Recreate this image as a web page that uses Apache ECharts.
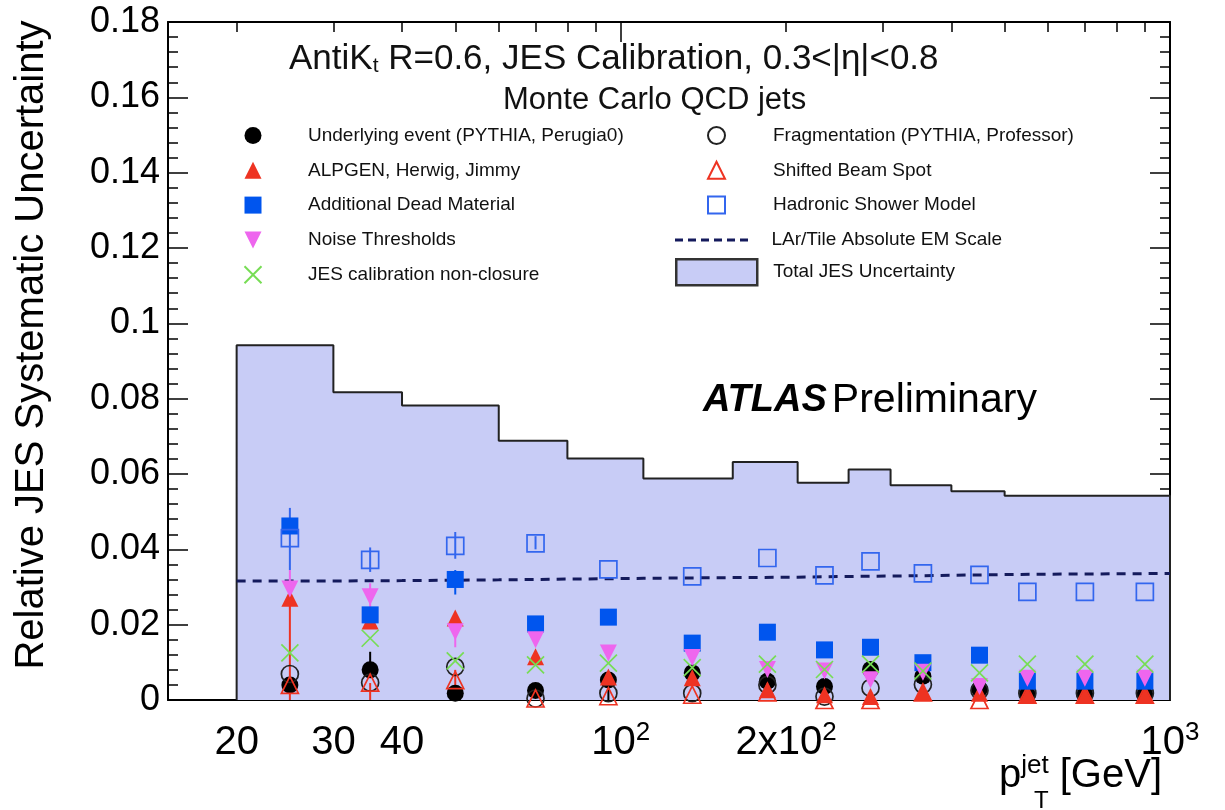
<!DOCTYPE html>
<html>
<head>
<meta charset="utf-8">
<script src="https://cdn.jsdelivr.net/npm/echarts@6/dist/echarts.min.js"></script>
<style>
html, body { margin: 0; padding: 0; background: #fff; }
#chart { width: 1225px; height: 810px; }
</style>
</head>
<body>
<div id="chart"></div>
<script>
// pT bins [GeV]
var binEdges = [20, 30, 40, 60, 80, 110, 160, 210, 260, 310, 400, 500, 600, 800, 1000];
var ptCenters = [25, 35, 50, 70, 95, 135, 185, 235, 285, 355, 450, 550, 700, 900];

var totalJES = [0.0942, 0.0817, 0.0782, 0.0688, 0.0641, 0.0588, 0.0632, 0.0577, 0.0612, 0.0570, 0.0554, 0.0542, 0.0542, 0.0542];
var larTile = [0.0316, 0.0317, 0.0319, 0.0321, 0.0323, 0.0325, 0.0326, 0.0328, 0.0329, 0.0331, 0.0333, 0.0334, 0.0335, 0.0336];

var ueData = [0.0040, 0.0080, 0.0018, 0.0025, 0.0053, 0.0072, 0.0050, 0.0036, 0.0081, 0.0063, 0.0029, 0.0014, 0.0014, 0.0014];
var fragData = [0.0069, 0.0046, 0.0088, 0.0004, 0.0018, 0.0018, 0.0040, 0.0009, 0.0032, 0.0041, 0.0025, 0.0018, 0.0018, 0.0018];
var alpgenData = [0.0270, 0.0210, 0.0218, 0.0115, 0.0061, 0.0059, 0.0027, 0.0014, 0.0009, 0.0020, 0.0018, 0.0012, 0.0012, 0.0012];
var beamData = [0.0040, 0.0046, 0.0053, 0.0004, 0.0010, 0.0014, 0.0020, 0.0000, 0.0000, 0.0020, 0.0000, 0.0014, 0.0014, 0.0014];
var deadData = [0.0462, 0.0226, 0.0320, 0.0202, 0.0220, 0.0151, 0.0180, 0.0133, 0.0140, 0.0099, 0.0119, 0.0050, 0.0050, 0.0050];
var showerData = [0.0430, 0.0372, 0.0409, 0.0416, 0.0347, 0.0328, 0.0377, 0.0331, 0.0368, 0.0336, 0.0332, 0.0287, 0.0287, 0.0287];
var noiseData = [0.0295, 0.0274, 0.0181, 0.0160, 0.0125, 0.0113, 0.0081, 0.0077, 0.0054, 0.0074, 0.0036, 0.0058, 0.0058, 0.0058];
var closureData = [0.0125, 0.0164, 0.0104, 0.0093, 0.0098, 0.0086, 0.0095, 0.0081, 0.0095, 0.0077, 0.0072, 0.0095, 0.0095, 0.0095];

// error bars: [pT, low, high]
var showerErr = [[25, 0.0345, 0.0510], [35, 0.0340, 0.0405], [50, 0.0375, 0.0446], [70, 0.0400, 0.0435]];
var deadErr = [[50, 0.0280, 0.0345]];
var noiseErr = [[25, 0.0240, 0.0345], [35, 0.0240, 0.0310], [50, 0.0140, 0.0195]];
var alpgenErr = [[25, 0.0, 0.0260], [35, 0.0, 0.0045], [50, 0.0030, 0.0080]];
var ueErr = [[35, 0.0080, 0.0128], [95, 0.0, 0.0040]];

var xLabelTicks = [20, 30, 40, 100, 200, 1000];
var xMinorTicks = [20, 30, 40, 50, 60, 70, 80, 90, 200, 300, 400, 500, 600, 700, 800, 900];
var xMajorTicks = [100, 1000];

var FONT = "'Liberation Sans', Arial, Helvetica, sans-serif";
var TRI_UP = "path://M5,0L10,10L0,10Z";
var TRI_DOWN = "path://M0,0L10,0L5,10Z";
var CROSS = "path://M0,0L10,10M10,0L0,10";
var DASHES = "path://M0,0h8v3h-8zM13,0h8v3h-8zM26,0h8v3h-8zM39,0h8v3h-8zM52,0h8v3h-8zM65,0h8v3h-8z";

function points(vals) {
  return ptCenters.map(function (x, i) { return [x, vals[i]]; });
}

// histogram outline from bin edges
function steps(vals, closed) {
  var out = [];
  if (closed) out.push([binEdges[0], 0]);
  for (var i = 0; i < vals.length; i++) {
    out.push([binEdges[i], vals[i]]);
    out.push([binEdges[i + 1], vals[i]]);
  }
  if (closed) out.push([binEdges[binEdges.length - 1], 0]);
  return out;
}

function errBars(name, data, color) {
  return {
    type: "custom",
    name: name,
    data: data,
    z: 3,
    silent: true,
    encode: { x: 0, y: [1, 2] },
    renderItem: function (params, api) {
      var a = api.coord([api.value(0), api.value(1)]);
      var b = api.coord([api.value(0), api.value(2)]);
      return {
        type: "line",
        shape: { x1: a[0], y1: a[1], x2: b[0], y2: b[1] },
        style: { stroke: color, lineWidth: 2 }
      };
    }
  };
}

function marker(name, vals, symbol, size, fill, stroke) {
  return {
    name: name,
    type: "scatter",
    data: points(vals),
    symbol: symbol,
    symbolSize: size,
    z: 5,
    itemStyle: { color: fill, borderColor: stroke, borderWidth: stroke ? 1.7 : 0, opacity: 1 }
  };
}

var axisLineStyle = { color: "#000", width: 2 };
var tickStyle = { color: "#000", width: 1.5 };

function xAxisBase(pos, ticks, len, withLine, labels) {
  return {
    type: "log",
    logBase: 10,
    min: 15,
    max: 1000,
    position: pos,
    axisLine: { show: withLine, lineStyle: axisLineStyle },
    axisTick: { show: true, inside: true, length: len, customValues: ticks, lineStyle: tickStyle },
    minorTick: { show: false },
    splitLine: { show: false },
    axisLabel: labels || { show: false }
  };
}

function yAxisBase(pos, labels) {
  return {
    type: "value",
    min: 0,
    max: 0.18,
    interval: 0.02,
    position: pos,
    axisLine: { show: true, lineStyle: axisLineStyle },
    axisTick: { show: true, inside: true, length: 20, lineStyle: tickStyle },
    minorTick: { show: true, splitNumber: 5, length: 10, lineStyle: tickStyle },
    splitLine: { show: false },
    axisLabel: labels || { show: false }
  };
}

function legendText(pad) {
  return { fontFamily: FONT, fontSize: 19, color: "#111", padding: [0, 0, 0, pad] };
}

var chart = echarts.init(document.getElementById("chart"));

var option = {
  backgroundColor: "#fff",
  animation: false,
  textStyle: { fontFamily: FONT },
  grid: { left: 168, right: 55, top: 22, bottom: 110, containLabel: false },
  title: [
    {
      text: "AntiK{s|t} R=0.6, JES Calibration, 0.3<|η|<0.8",
      left: 284, top: 36,
      textStyle: {
        fontFamily: FONT, fontSize: 35, fontWeight: "normal", color: "#111",
        rich: {
          s: { fontFamily: FONT, fontSize: 21, color: "#111", verticalAlign: "bottom", padding: [15, 0, 0, 0] }
        }
      }
    },
    {
      text: "Monte Carlo QCD jets",
      left: 498, top: 80,
      textStyle: { fontFamily: FONT, fontSize: 31, fontWeight: "normal", color: "#111" }
    },
    {
      text: "{b|ATLAS} {n|Preliminary}",
      left: 698, top: 375,
      textStyle: {
        rich: {
          b: { fontFamily: FONT, fontSize: 38, fontWeight: "bold", fontStyle: "italic", color: "#000" },
          n: { fontFamily: FONT, fontSize: 41, fontWeight: "normal", color: "#000" }
        }
      }
    },
    {
      text: "p{sup|jet} [GeV]",
      right: 58, top: 748,
      textStyle: {
        rich: {
          sup: { fontFamily: FONT, fontSize: 26, color: "#000", verticalAlign: "top", lineHeight: 46 }
        },
        fontFamily: FONT, fontSize: 40, fontWeight: "normal", color: "#000", lineHeight: 46
      }
    },
    {
      text: "T",
      left: 1029, top: 784,
      textStyle: { fontFamily: FONT, fontSize: 24, fontWeight: "normal", color: "#000" }
    }
  ],
  legend: [
    {
      left: 238.5, top: 121, orient: "vertical", symbolKeepAspect: true,
      itemWidth: 17, itemHeight: 17, itemGap: 15.8,
      textStyle: legendText(41.5),
      data: ["Underlying event (PYTHIA, Perugia0)", "ALPGEN, Herwig, Jimmy", "Additional Dead Material",
             "Noise Thresholds", "JES calibration non-closure"]
    },
    {
      left: 702, top: 121, orient: "vertical", symbolKeepAspect: true,
      itemWidth: 17, itemHeight: 17, itemGap: 15.8,
      textStyle: legendText(43),
      data: ["Fragmentation (PYTHIA, Professor)", "Shifted Beam Spot", "Hadronic Shower Model"]
    },
    {
      left: 670, top: 225.5, orient: "vertical",
      itemWidth: 74, itemHeight: 3,
      textStyle: legendText(18),
      data: [{ name: "LAr/Tile Absolute EM Scale", icon: DASHES, itemStyle: { color: "#141a5c" } }]
    },
    {
      left: 670, top: 253, orient: "vertical",
      itemWidth: 81, itemHeight: 26,
      textStyle: legendText(11),
      data: [
        { name: "Total JES Uncertainty", icon: "rect",
          itemStyle: { color: "#c8ccf6", borderColor: "#333", borderWidth: 2.5 } }
      ]
    }
  ],
  xAxis: [
    xAxisBase("bottom", xMinorTicks, 10, true, {
      show: true,
      customValues: xLabelTicks,
      margin: 20,
      fontFamily: FONT, fontSize: 40, color: "#000",
      formatter: function (v) {
        if (v === 100) return "10{sup|2}";
        if (v === 200) return "2x10{sup|2}";
        if (v === 1000) return "10{sup|3}";
        return String(v);
      },
      rich: {
        sup: { fontFamily: FONT, fontSize: 26, color: "#000", verticalAlign: "top", lineHeight: 46 }
      },
      lineHeight: 46
    }),
    xAxisBase("bottom", xMajorTicks, 20, false),
    xAxisBase("top", xMinorTicks, 10, true),
    xAxisBase("top", xMajorTicks, 20, false)
  ],
  yAxis: [
    Object.assign(yAxisBase("left", {
      show: true, margin: 8,
      fontFamily: FONT, fontSize: 36, color: "#000",
      formatter: function (v) { return v === 0 ? "0" : String(parseFloat(v.toFixed(2))); }
    }), {
      name: "Relative JES Systematic Uncertainty",
      nameLocation: "middle",
      nameGap: 116,
      nameTextStyle: { fontFamily: FONT, fontSize: 40, color: "#000", padding: [0, 0, 0, 32] }
    }),
    yAxisBase("right")
  ],
  series: [
    {
      name: "Total JES Uncertainty",
      type: "line",
      data: steps(totalJES, true),
      symbol: "none",
      z: 1,
      silent: true,
      lineStyle: { color: "#222", width: 2 },
      itemStyle: { color: "#c8ccf6" },
      areaStyle: { color: "#c8ccf6", opacity: 1 }
    },
    {
      name: "LAr/Tile Absolute EM Scale",
      type: "line",
      data: steps(larTile, false),
      symbol: "none",
      z: 2,
      silent: true,
      itemStyle: { color: "#141a5c" },
      lineStyle: { color: "#141a5c", width: 3, type: [9, 7] }
    },
    errBars("shower err", showerErr, "#3366ee"),
    errBars("dead err", deadErr, "#0055ee"),
    errBars("noise err", noiseErr, "#ee66ee"),
    errBars("alpgen err", alpgenErr, "#ee3322"),
    errBars("ue err", ueErr, "#000"),
    marker("Underlying event (PYTHIA, Perugia0)", ueData, "circle", 17, "#000", null),
    marker("Fragmentation (PYTHIA, Professor)", fragData, "circle", 17, "rgba(0,0,0,0)", "#222"),
    marker("ALPGEN, Herwig, Jimmy", alpgenData, TRI_UP, 17, "#ee3322", null),
    marker("Shifted Beam Spot", beamData, TRI_UP, 17, "rgba(0,0,0,0)", "#ee3322"),
    marker("Additional Dead Material", deadData, "rect", 17, "#0055ee", null),
    marker("Hadronic Shower Model", showerData, "rect", 17, "rgba(0,0,0,0)", "#3366ee"),
    marker("Noise Thresholds", noiseData, TRI_DOWN, 17, "#ee66ee", null),
    marker("JES calibration non-closure", closureData, CROSS, 17, "rgba(0,0,0,0)", "#77dd55")
  ]
};

chart.setOption(option);
</script>
</body>
</html>
